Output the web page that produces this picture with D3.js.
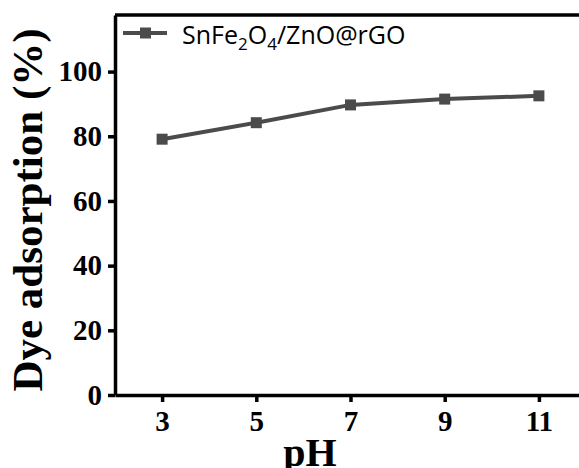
<!DOCTYPE html>
<html>
<head>
<meta charset="utf-8">
<script src="https://cdn.jsdelivr.net/npm/d3@7"></script>
<style>
  body { margin: 0; background: #fff; }
  .axis text { font-family: "Liberation Serif", "Times New Roman", serif; font-weight: bold; font-size: 29px; fill: #000; }
  .axis path, .axis line { stroke: #000; stroke-width: 3.5; }
</style>
</head>
<body>
<div id="chart"></div>
<script>
const phValues = [3, 5, 7, 9, 11];
const adsorption = [79.1, 84.2, 89.7, 91.5, 92.5];
const xTicks = [3, 5, 7, 9, 11];
const yTicks = [0, 20, 40, 60, 80, 100];

const width = 579, height = 468;
const lineColor = "#4b4b4b";

const svg = d3.select("#chart").append("svg")
    .attr("width", width)
    .attr("height", height);

const xScale = d3.scaleLinear().domain([2, 12]).range([115, 586]);
const yScale = d3.scaleLinear().domain([0, 117.5]).range([395, 15]);

// top border (right side runs off the picture)
svg.append("line")
    .attr("x1", 115).attr("x2", 590)
    .attr("y1", yScale(117.5)).attr("y2", yScale(117.5))
    .attr("stroke", "#000").attr("stroke-width", 3.5);

svg.append("g")
    .attr("class", "axis")
    .attr("transform", `translate(0, ${yScale(0)})`)
    .call(d3.axisBottom(xScale).tickValues(xTicks).tickSize(7).tickPadding(8).tickSizeOuter(0));

svg.append("g")
    .attr("class", "axis")
    .attr("transform", `translate(${xScale(2)}, 0)`)
    .call(d3.axisLeft(yScale).tickValues(yTicks).tickSize(7).tickPadding(6).tickSizeOuter(0));

const line = d3.line()
    .x((d, i) => xScale(phValues[i]))
    .y(d => yScale(d));

svg.append("path")
    .datum(adsorption)
    .attr("d", line)
    .attr("fill", "none")
    .attr("stroke", lineColor)
    .attr("stroke-width", 4);

svg.selectAll("rect.pt")
    .data(adsorption)
    .enter()
    .append("rect")
    .attr("class", "pt")
    .attr("x", (d, i) => xScale(phValues[i]) - 5.5)
    .attr("y", d => yScale(d) - 5.5)
    .attr("width", 11)
    .attr("height", 11)
    .attr("fill", lineColor);

// legend
const lg = svg.append("g").attr("transform", "translate(123, 33)");
lg.append("line").attr("x1", 0).attr("x2", 44).attr("y1", 0).attr("y2", 0)
    .attr("stroke", lineColor).attr("stroke-width", 4);
lg.append("rect").attr("x", 17).attr("y", -5.5).attr("width", 11).attr("height", 11).attr("fill", lineColor);
const lt = lg.append("text")
    .attr("x", 59).attr("y", 11)
    .attr("font-family", "'Open Sans', sans-serif")
    .attr("font-size", 25)
    .attr("fill", "#000");
lt.append("tspan").text("SnFe");
lt.append("tspan").attr("font-size", 17).attr("dy", 6).text("2");
lt.append("tspan").attr("dy", -6).text("O");
lt.append("tspan").attr("font-size", 17).attr("dy", 6).text("4");
lt.append("tspan").attr("dy", -6).text("/ZnO@rGO");

// axis titles
svg.append("text")
    .attr("x", 310).attr("y", 466)
    .attr("text-anchor", "middle")
    .attr("font-family", "'Liberation Serif', serif")
    .attr("font-weight", "bold")
    .attr("font-size", 40)
    .text("pH");

svg.append("text")
    .attr("transform", "translate(42, 210) rotate(-90)")
    .attr("text-anchor", "middle")
    .attr("font-family", "'Liberation Serif', serif")
    .attr("font-weight", "bold")
    .attr("font-size", 43)
    .text("Dye adsorption (%)");
</script>
</body>
</html>
